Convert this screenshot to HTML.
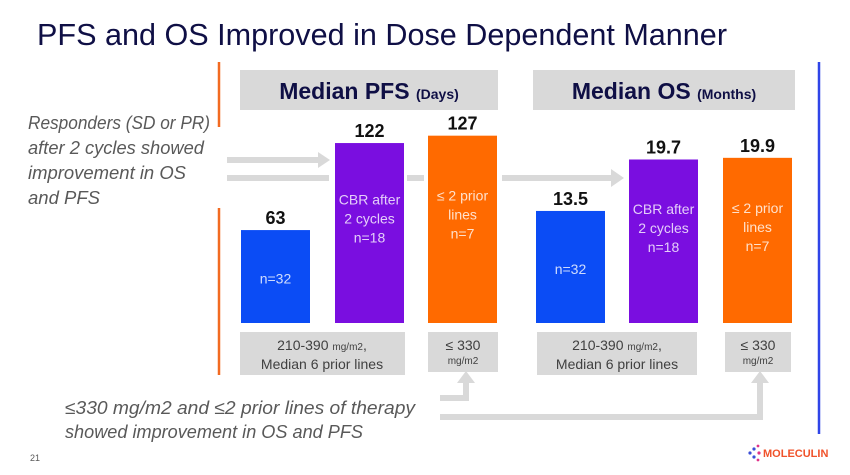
<!DOCTYPE html>
<html><head><meta charset="utf-8"><style>
html,body{margin:0;padding:0;background:#fff;width:850px;height:475px;overflow:hidden}
svg{display:block;font-family:"Liberation Sans",sans-serif}
</style></head><body>
<svg id="chart" width="850" height="475" viewBox="0 0 850 475">
<defs>
<linearGradient id="gTop" x1="0" x2="1" y1="0" y2="0"><stop offset="0" stop-color="#f26a21"/><stop offset="0.5" stop-color="#e0338a"/><stop offset="1" stop-color="#2f45e8"/></linearGradient>
<linearGradient id="gBot" x1="0" x2="1" y1="0" y2="0"><stop offset="0" stop-color="#c0288f"/><stop offset="1" stop-color="#2f45e8"/></linearGradient>
</defs>
<text x="37" y="45" font-size="31" fill="#0f0f45" textLength="690" lengthAdjust="spacingAndGlyphs">PFS and OS Improved in Dose Dependent Manner</text>

<g>
<line x1="219" y1="63" x2="819" y2="63" stroke="url(#gTop)" stroke-width="2.5"/>
<line x1="819" y1="62" x2="819" y2="434" stroke="#2f45e8" stroke-width="2.5"/>
<line x1="440" y1="433" x2="820" y2="433" stroke="url(#gBot)" stroke-width="2.5"/>
<line x1="219" y1="62" x2="219" y2="127" stroke="#f26a21" stroke-width="2.5"/>
<line x1="219" y1="208" x2="219" y2="375" stroke="#f26a21" stroke-width="2.5"/>
</g>

<g font-style="italic" font-size="18.5" fill="#595959">
<text x="28" y="129" textLength="182" lengthAdjust="spacingAndGlyphs">Responders (SD or PR)</text>
<text x="28" y="154" textLength="176" lengthAdjust="spacingAndGlyphs">after 2 cycles showed</text>
<text x="28" y="179" textLength="158" lengthAdjust="spacingAndGlyphs">improvement in OS</text>
<text x="28" y="204">and PFS</text>
</g>
<g font-style="italic" font-size="18.5" fill="#595959">
<text x="65" y="414" textLength="350" lengthAdjust="spacingAndGlyphs">≤330 mg/m2 and ≤2 prior lines of therapy</text>
<text x="65" y="438" textLength="298" lengthAdjust="spacingAndGlyphs">showed improvement in OS and PFS</text>
</g>

<g fill="#d9d9d9" stroke="none">
<rect x="227" y="157" width="92" height="6"/><polygon points="318,152 330,160 318,168"/>
<rect x="227" y="175" width="102" height="6"/>
<rect x="407" y="175" width="17" height="6"/>
<rect x="502" y="175" width="110" height="6"/><polygon points="611,169 624,178 611,187"/>
<rect x="440" y="395" width="29" height="6"/><rect x="463" y="382" width="6" height="19"/><polygon points="457,383 466,371 475,383"/>
<rect x="440" y="414" width="323" height="6"/><rect x="757" y="382" width="6" height="38"/><polygon points="751,383 760,371 769,383"/>
</g>

<g>
<rect x="240" y="70" width="258" height="40" fill="#d9d9d9"/>
<text x="369" y="99" text-anchor="middle" fill="#0f0f45" font-weight="bold"><tspan font-size="23">Median PFS </tspan><tspan font-size="14">(Days)</tspan></text>
</g>
<g>
<rect x="533" y="70" width="262" height="40" fill="#d9d9d9"/>
<text x="664" y="99" text-anchor="middle" fill="#0f0f45" font-weight="bold"><tspan font-size="23">Median OS </tspan><tspan font-size="14">(Months)</tspan></text>
</g>

<g id="bars"></g>

<g font-size="14" fill="#404040" text-anchor="middle">
<rect x="240" y="332" width="165" height="43" fill="#d9d9d9"/>
<text x="322" y="350">210-390 <tspan font-size="10">mg/m2</tspan>,</text><text x="322" y="369">Median 6 prior lines</text>
<rect x="428" y="332" width="70" height="40" fill="#d9d9d9"/>
<text x="463" y="350">≤ 330</text><text x="463" y="364" font-size="10">mg/m2</text>
<rect x="537" y="332" width="160" height="43" fill="#d9d9d9"/>
<text x="617" y="350">210-390 <tspan font-size="10">mg/m2</tspan>,</text><text x="617" y="369">Median 6 prior lines</text>
<rect x="725" y="332" width="66" height="40" fill="#d9d9d9"/>
<text x="758" y="350">≤ 330</text><text x="758" y="364" font-size="10">mg/m2</text>
</g>

<text x="30" y="461" font-size="9" fill="#595959">21</text>
<g>
<circle cx="750" cy="453" r="1.6" fill="#3b4fd6"/><circle cx="754" cy="449" r="1.6" fill="#3b4fd6"/><circle cx="754" cy="457" r="1.6" fill="#3b4fd6"/>
<circle cx="758" cy="446" r="1.4" fill="#e0338a"/><circle cx="759" cy="453" r="1.6" fill="#e0338a"/><circle cx="758" cy="460" r="1.4" fill="#e0338a"/>
<text x="763" y="457" font-size="11" font-weight="bold" fill="#f0522a">MOLECULIN</text>
</g>

<script>
const pfsCategories = ["All", "CBR after 2 cycles", "≤ 2 prior lines"];
const pfsValues = [63, 122, 127];
const pfsLabels = ["63", "122", "127"];
const osCategories = ["All", "CBR after 2 cycles", "≤ 2 prior lines"];
const osValues = [13.5, 19.7, 19.9];
const osLabels = ["13.5", "19.7", "19.9"];
const innerText = [["n=32"], ["CBR after", "2 cycles", "n=18"], ["≤ 2 prior", "lines", "n=7"]];

const NS = "http://www.w3.org/2000/svg";
const baseY = 323;
function yPfs(v){ return baseY - v * 1.475; }
function yOs(v){ return baseY - v * 8.3; }
const colors = ["#0b4cf5", "#7a0ee0", "#ff6a00"];
const g = document.getElementById("bars");
function drawGroup(vals, labels, xs, yf, prefix){
  vals.forEach(function(v, i){
    const top = yf(v);
    const r = document.createElementNS(NS, "rect");
    r.setAttribute("x", xs[i]); r.setAttribute("y", top);
    r.setAttribute("width", 69); r.setAttribute("height", baseY - top);
    r.setAttribute("fill", colors[i]);
    
    
    g.appendChild(r);
    const t = document.createElementNS(NS, "text");
    t.setAttribute("x", xs[i] + 34.5); t.setAttribute("y", top - 6);
    t.setAttribute("text-anchor", "middle"); t.setAttribute("font-size", "18");
    t.setAttribute("font-weight", "bold"); t.setAttribute("fill", "#111");
    t.textContent = labels[i];
    
    
    g.appendChild(t);
    const lines = innerText[i];
    const mid = i === 0 ? top + (baseY - top) * 0.52 : top + (baseY - top) * 0.42;
    lines.forEach(function(s, j){
      const it = document.createElementNS(NS, "text");
      it.setAttribute("x", xs[i] + 34.5);
      it.setAttribute("y", mid + (j - (lines.length - 1) / 2) * 19 + 5);
      it.setAttribute("text-anchor", "middle"); it.setAttribute("font-size", "14");
      it.setAttribute("fill", "rgba(255,255,255,0.8)");
      it.textContent = s;
      
      
      g.appendChild(it);
    });
  });
}
drawGroup(pfsValues, pfsLabels, [241, 335, 428], yPfs, "pfs");
drawGroup(osValues, osLabels, [536, 629, 723], yOs, "os");
</script>
</svg>
</body></html>
